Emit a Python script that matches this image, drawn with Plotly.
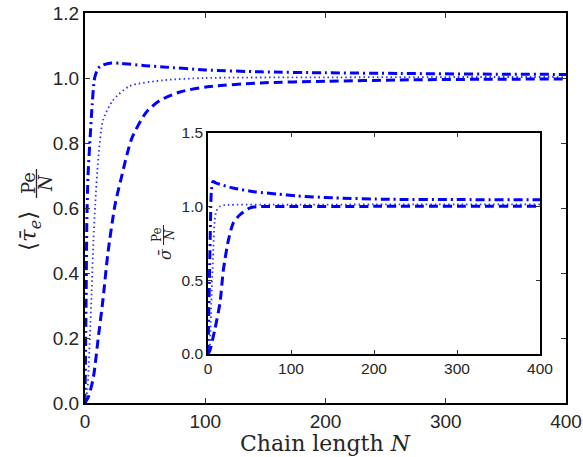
import plotly.graph_objects as go

# ---------------- data ----------------
main_dashdot_N = [0, 1, 1.5, 2.5, 4, 6, 8, 11, 15, 22, 30, 50, 65, 100, 146, 200, 262, 330, 400]
main_dashdot_v = [0, 0.35, 0.55, 0.70, 0.80, 0.92, 1.00, 1.03, 1.040, 1.046, 1.045, 1.038, 1.034, 1.025, 1.019, 1.016, 1.014, 1.012, 1.011]

main_dotted_N = [0, 2, 4, 5.5, 7, 8.5, 11, 15, 23, 37, 65, 100, 200, 300, 400]
main_dotted_v = [0, 0.04, 0.20, 0.34, 0.50, 0.61, 0.75, 0.87, 0.93, 0.975, 0.993, 1.000, 1.002, 1.003, 1.003]

main_dashed_N = [0, 3, 7, 11, 15, 19, 25, 30, 39, 51, 62, 79, 102, 146, 200, 262, 330, 400]
main_dashed_v = [0, 0.02, 0.08, 0.20, 0.32, 0.46, 0.61, 0.69, 0.815, 0.895, 0.930, 0.957, 0.973, 0.985, 0.990, 0.994, 0.996, 0.997]

ins_dashdot_N = [0, 1, 2, 3, 4, 6, 10, 30, 57, 83, 107, 151, 219, 300, 400]
ins_dashdot_v = [0, 0.30, 0.60, 0.90, 1.10, 1.17, 1.16, 1.127, 1.100, 1.086, 1.073, 1.060, 1.050, 1.048, 1.047]

ins_dotted_N = [0, 2, 4, 6, 8, 10, 14, 20, 100, 200, 400]
ins_dotted_v = [0, 0.05, 0.35, 0.65, 0.90, 0.97, 1.00, 1.01, 1.013, 1.015, 1.015]

ins_dashed_N = [0, 2, 8, 14.5, 18.5, 24.5, 30.5, 38.5, 50, 60, 100, 200, 400]
ins_dashed_v = [0, 0.02, 0.16, 0.35, 0.57, 0.77, 0.89, 0.945, 0.99, 1.0, 1.001, 1.002, 1.002]

main_xticks = [0, 100, 200, 300, 400]
main_yticks = [0.0, 0.2, 0.4, 0.6, 0.8, 1.0, 1.2]
ins_xticks = [0, 100, 200, 300, 400]
ins_yticks = [0.0, 0.5, 1.0, 1.5]

# ---------------- layout geometry (pixels) ----------------
W, H = 583, 457
L, R, T, B = 85, 566, 13, 403
PW, PH = R - L, B - T


def px(x):
    return (x - L) / PW


def py(y):
    return (B - y) / PH


BLUE = "#0000ff"
fig = go.Figure()

styles = {
    "dashdot": dict(color=BLUE, width=3, dash="9px,4px,2px,4px"),
    "dotted": dict(color="#3030ff", width=1.8, dash="1.5px,3px"),
    "dashed": dict(color=BLUE, width=3, dash="9px,5px"),
}

for (xs, ys, st) in [
    (main_dashdot_N, main_dashdot_v, "dashdot"),
    (main_dotted_N, main_dotted_v, "dotted"),
    (main_dashed_N, main_dashed_v, "dashed"),
]:
    fig.add_trace(go.Scatter(x=xs, y=ys, mode="lines", line=dict(**styles[st], shape="spline", smoothing=0.7),
                             xaxis="x", yaxis="y", showlegend=False, hoverinfo="skip"))

for (xs, ys, st) in [
    (ins_dashdot_N, ins_dashdot_v, "dashdot"),
    (ins_dotted_N, ins_dotted_v, "dotted"),
    (ins_dashed_N, ins_dashed_v, "dashed"),
]:
    fig.add_trace(go.Scatter(x=xs, y=ys, mode="lines", line=dict(**styles[st], shape="spline", smoothing=0.7),
                             xaxis="x2", yaxis="y2", showlegend=False, hoverinfo="skip"))

TICKFONT = dict(family="Liberation Sans, Arial, sans-serif", size=19, color="#262626")
TICKFONT2 = dict(family="Liberation Sans, Arial, sans-serif", size=15.5, color="#262626")

common = dict(showgrid=False, zeroline=False, showline=True, linecolor="black", mirror="allticks",
              ticks="inside", tickcolor="#333333", tickwidth=1, automargin=False)

fig.update_layout(
    width=W, height=H,
    margin=dict(l=L, r=W - R, t=T, b=H - B, autoexpand=False),
    paper_bgcolor="white", plot_bgcolor="white",
    xaxis=dict(domain=[0, 1], range=[0, 400], tickvals=main_xticks, ticktext=[str(v) for v in main_xticks],
               ticklen=5, linewidth=2, tickfont=TICKFONT, ticklabelstandoff=0, anchor="y", **common),
    yaxis=dict(domain=[0, 1], range=[0, 1.2], tickvals=main_yticks, ticktext=[f"{v:.1f}" for v in main_yticks],
               ticklen=5, linewidth=2, tickfont=TICKFONT, ticklabelstandoff=0, anchor="x", **common),
    xaxis2=dict(domain=[px(208), px(540)], range=[0, 400], tickvals=ins_xticks,
                ticktext=[str(v) for v in ins_xticks], ticklen=4, linewidth=1.5, tickfont=TICKFONT2,
                ticklabelstandoff=0, anchor="y2", **common),
    yaxis2=dict(domain=[py(354), py(133)], range=[0, 1.5], tickvals=ins_yticks,
                ticktext=[f"{v:.1f}" for v in ins_yticks], ticklen=4, linewidth=1.5, tickfont=TICKFONT2,
                ticklabelstandoff=0, anchor="x2", **common),
)

SERIF = "DejaVu Serif, Liberation Serif, serif"
ann = []
# x axis title
ann.append(dict(x=px(325), y=py(443), xref="paper", yref="paper", text="Chain length <i>N</i>",
                showarrow=False, font=dict(family=SERIF, size=22, color="#262626"),
                xanchor="center", yanchor="middle"))
# main y label: <tau_e> Pe/N
ann.append(dict(x=px(30), y=py(231), xref="paper", yref="paper", text="⟨<i>τ̄</i><sub><i>e</i></sub>⟩",
                showarrow=False, textangle=-90, font=dict(family=SERIF, size=23, color="#262626"),
                xanchor="center", yanchor="middle"))
ann.append(dict(x=px(28), y=py(183), xref="paper", yref="paper", text="Pe",
                showarrow=False, textangle=-90, font=dict(family=SERIF, size=18, color="#262626"),
                xanchor="center", yanchor="middle"))
ann.append(dict(x=px(45), y=py(183), xref="paper", yref="paper", text="<i>N</i>",
                showarrow=False, textangle=-90, font=dict(family=SERIF, size=18, color="#262626"),
                xanchor="center", yanchor="middle"))
# inset y label: sigma Pe/N
ann.append(dict(x=px(165), y=py(254), xref="paper", yref="paper", text="<i>σ̄</i>",
                showarrow=False, textangle=-90, font=dict(family=SERIF, size=16, color="#262626"),
                xanchor="center", yanchor="middle"))
ann.append(dict(x=px(157), y=py(235), xref="paper", yref="paper", text="Pe",
                showarrow=False, textangle=-90, font=dict(family=SERIF, size=12, color="#262626"),
                xanchor="center", yanchor="middle"))
ann.append(dict(x=px(170), y=py(235), xref="paper", yref="paper", text="<i>N</i>",
                showarrow=False, textangle=-90, font=dict(family=SERIF, size=12, color="#262626"),
                xanchor="center", yanchor="middle"))
fig.update_layout(annotations=ann)

# fraction bars
fig.add_shape(type="line", xref="paper", yref="paper", x0=px(36.5), x1=px(36.5), y0=py(169), y1=py(198),
              line=dict(color="#262626", width=1.3))
fig.add_shape(type="line", xref="paper", yref="paper", x0=px(163.5), x1=px(163.5), y0=py(225), y1=py(245),
              line=dict(color="#262626", width=1))

fig.write_html("out.html")
